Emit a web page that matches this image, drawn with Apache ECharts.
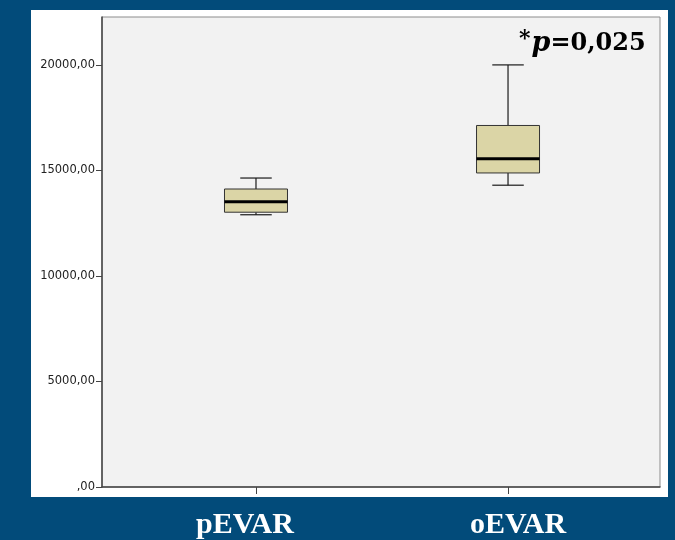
<!DOCTYPE html>
<html>
<head>
<meta charset="utf-8">
<script src="https://cdn.jsdelivr.net/npm/echarts@6/dist/echarts.min.js"></script>
<style>
    html, body { margin: 0; padding: 0; background: #024b7a; }
    #chart { width: 675px; height: 540px; }
</style>
</head>
<body>
<div id="chart"></div>
<script>
    // box plot summary per group
    const categories = ['pEVAR', 'oEVAR'];
    const minVals = [12900, 14300];
    const q1Vals = [13020, 14880];
    const medianVals = [13520, 15550];
    const q3Vals = [14120, 17130];
    const maxVals = [14640, 20000];
    const yTicks = [0, 5000, 10000, 15000, 20000];

    let boxData = categories.map(function (c, i) {
        return [i, minVals[i], q1Vals[i], medianVals[i], q3Vals[i], maxVals[i]];
    });

    function fmtY(v) {
        // SPSS style: 20000,00 and ,00
        return v === 0 ? ',00' : v + ',00';
    }

    function renderBox(params, api) {
        let x = api.value(0);
        let lo = api.coord([x, api.value(1)]);
        let q1 = api.coord([x, api.value(2)]);
        let med = api.coord([x, api.value(3)]);
        let q3 = api.coord([x, api.value(4)]);
        let hi = api.coord([x, api.value(5)]);
        let bw = api.size([0.25, 0])[0];
        let cw = api.size([0.125, 0])[0];
        let cx = hi[0];
        let line = { stroke: '#1a1a1a', lineWidth: 1.2 };
        return {
            type: 'group',
            children: [
                { type: 'line', shape: { x1: cx, y1: hi[1], x2: cx, y2: q3[1] }, style: line },
                { type: 'line', shape: { x1: cx, y1: q1[1], x2: cx, y2: lo[1] }, style: line },
                { type: 'line', shape: { x1: cx - cw / 2, y1: hi[1], x2: cx + cw / 2, y2: hi[1] }, style: line },
                { type: 'line', shape: { x1: cx - cw / 2, y1: lo[1], x2: cx + cw / 2, y2: lo[1] }, style: line },
                { type: 'rect', shape: { x: cx - bw / 2, y: q3[1], width: bw, height: q1[1] - q3[1] },
                  style: { fill: '#dbd5a6', stroke: '#333', lineWidth: 1 } },
                { type: 'line', shape: { x1: cx - bw / 2, y1: med[1], x2: cx + bw / 2, y2: med[1] },
                  style: { stroke: '#000', lineWidth: 3 } }
            ]
        };
    }

    let myChart = echarts.init(document.getElementById('chart'));
    let option = {
        backgroundColor: '#024b7a',
        animation: false,
        graphic: [
            {
                type: 'rect', z: -10, silent: true,
                shape: { x: 31, y: 10, width: 637, height: 487 },
                style: { fill: '#ffffff' }
            },
            {
                type: 'text', z: 10, left: 519, top: 28,
                style: {
                    text: '{s|*}{p|p}{n|=0,025}',
                    rich: {
                        s: { fontFamily: 'DejaVu Serif', fontSize: 22, fontWeight: 'bold', fill: '#000', verticalAlign: 'top', padding: [0, 1, 10, 0] },
                        p: { fontFamily: 'DejaVu Serif', fontSize: 27, fontWeight: 'bold', fontStyle: 'italic', fill: '#000' },
                        n: { fontFamily: 'DejaVu Serif', fontSize: 24, fontWeight: 'bold', fill: '#000' }
                    }
                }
            }
        ],
        grid: {
            left: 102, right: 15, top: 17, bottom: 52,
            show: true,
            backgroundColor: '#f2f2f2',
            borderColor: '#8c8c8c',
            borderWidth: 1
        },
        xAxis: {
            type: 'value',
            min: -0.611,
            max: 1.603,
            splitLine: { show: false },
            axisLine: { show: true, onZero: false, lineStyle: { color: '#444', width: 1.5 } },
            axisTick: { show: true, customValues: [0, 1], length: 7, lineStyle: { color: '#444' } },
            axisLabel: {
                customValues: [0, 1],
                // slide labels sit slightly off the ticks
                formatter: function (v) {
                    let i = Math.round(v);
                    return '{' + (i === 0 ? 'l' : 'r') + '|' + categories[i] + '}';
                },
                margin: 23,
                color: '#ffffff',
                fontFamily: 'Liberation Serif',
                fontWeight: 'bold',
                fontSize: 30,
                rich: {
                    l: { color: '#ffffff', fontFamily: 'Liberation Serif', fontWeight: 'bold', fontSize: 30, padding: [0, 22, 0, 0] },
                    r: { color: '#ffffff', fontFamily: 'Liberation Serif', fontWeight: 'bold', fontSize: 30, padding: [0, 0, 0, 20] }
                }
            }
        },
        yAxis: {
            type: 'value',
            min: 0,
            max: 22270,
            interval: 5000,
            splitLine: { show: false },
            axisLine: { show: true, onZero: false, lineStyle: { color: '#444', width: 1.5 } },
            axisTick: { show: true, customValues: yTicks, length: 6, lineStyle: { color: '#444' } },
            axisLabel: {
                customValues: yTicks,
                formatter: fmtY,
                margin: 7,
                color: '#222',
                fontFamily: 'DejaVu Sans',
                fontSize: 11.5
            }
        },
        series: [
            {
                type: 'custom',
                renderItem: renderBox,
                encode: { x: 0, y: [1, 2, 3, 4, 5] },
                data: boxData
            }
        ]
    };
    myChart.setOption(option);
</script>
</body>
</html>
